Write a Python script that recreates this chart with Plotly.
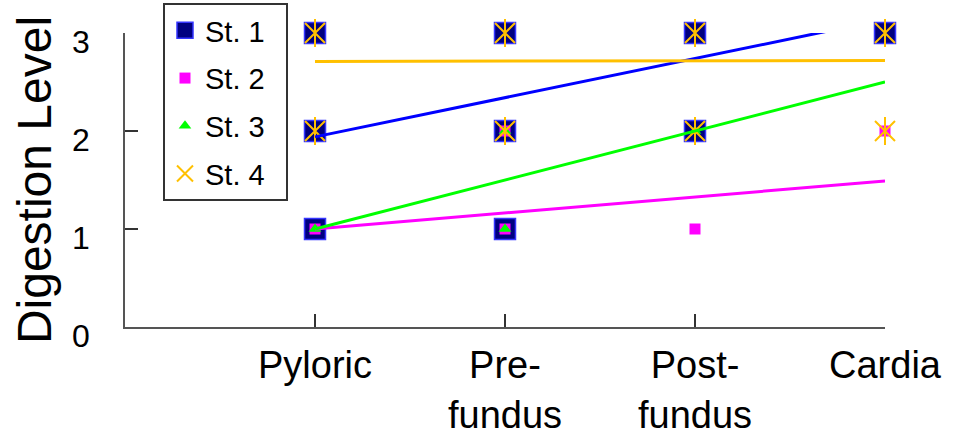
import plotly.graph_objects as go

# Stomach regions along the x axis and digestion levels on the y axis
categories = ["Pyloric", "Pre-<br>fundus", "Post-<br>fundus", "Cardia"]
cat_pos = [1, 2, 3, 4]
y_ticks = [0, 1, 2, 3]
stage_names = ["St. 1", "St. 2", "St. 3", "St. 4"]

# Observed digestion levels per stage
st1_x = [1, 1, 1, 2, 2, 2, 3, 3, 4]
st1_y = [3, 2, 1, 3, 2, 1, 3, 2, 3]
st2_x = [1, 2, 2, 3, 4]
st2_y = [1, 2, 1, 1, 2]
st3_x = [1, 2, 2, 3]
st3_y = [1, 1, 2, 2]
st4_x = [1, 1, 2, 2, 3, 3, 4, 4]
st4_y = [3, 2, 3, 2, 3, 2, 3, 2]

# Linear trend values at the first (Pyloric) and last (Cardia) region
trend_st1 = [1.94, 3.14]
trend_st2 = [1.00, 1.49]
trend_st3 = [1.00, 2.50]
trend_st4 = [2.71, 2.72]

FONT = "Liberation Sans, Arial, Helvetica, sans-serif"
NAVY = "#000080"
MAGENTA = "#FF00FF"
GREEN = "#00FF00"
GOLD = "#FFC000"
BLUE = "#0000FF"

# trailing no-break spaces widen the legend box a little
PAD = "\u00a0\u00a0"

fig = go.Figure()

# Point markers, drawn in stage order so later stages sit on top
fig.add_trace(go.Scatter(
    x=st1_x, y=st1_y, mode="markers", name=stage_names[0] + PAD,
    legendgroup="s1",
    marker=dict(symbol="square", size=21, color=NAVY,
                line=dict(color="#3535FF", width=1.5)),
    cliponaxis=False))
fig.add_trace(go.Scatter(
    x=st2_x, y=st2_y, mode="markers", name=stage_names[1] + PAD,
    legendgroup="s2",
    marker=dict(symbol="square", size=11, color=MAGENTA,
                line=dict(width=0)),
    cliponaxis=False))
fig.add_trace(go.Scatter(
    x=st3_x, y=st3_y, mode="markers", name=stage_names[2] + PAD,
    legendgroup="s3",
    marker=dict(symbol="triangle-up", size=11, color=GREEN,
                line=dict(width=0)),
    cliponaxis=False))
fig.add_trace(go.Scatter(
    x=st4_x, y=st4_y, mode="markers", name=stage_names[3] + PAD,
    legendgroup="s4",
    marker=dict(symbol="x-thin-open", size=20, color=GOLD,
                line=dict(color=GOLD, width=2)),
    cliponaxis=False))
fig.add_trace(go.Scatter(
    x=st4_x, y=st4_y, mode="markers", name=stage_names[3],
    legendgroup="s4", showlegend=False,
    marker=dict(symbol="line-ns-open", size=20, color=GOLD,
                line=dict(color=GOLD, width=2)),
    cliponaxis=False))

# Trend lines over the region range
trend_x = [cat_pos[0], cat_pos[-1]]
for vals, col, grp in [(trend_st1, BLUE, "s1"), (trend_st2, MAGENTA, "s2"),
                       (trend_st3, GREEN, "s3"), (trend_st4, GOLD, "s4")]:
    fig.add_trace(go.Scatter(
        x=trend_x, y=vals, mode="lines", legendgroup=grp, showlegend=False,
        line=dict(color=col, width=3), hoverinfo="skip"))

fig.update_layout(
    width=963, height=435,
    margin=dict(l=125, r=78, t=33, b=108, autoexpand=False),
    paper_bgcolor="white", plot_bgcolor="white",
    font=dict(family=FONT, color="black"),
    showlegend=True,
    legend=dict(
        x=0.05, y=1.102, xanchor="left", yanchor="top",
        bgcolor="white", bordercolor="#333333", borderwidth=2,
        font=dict(family=FONT, size=29, color="black"),
        traceorder="grouped", tracegroupgap=7,
    ),
    xaxis=dict(
        range=[0, 4], tickmode="array", tickvals=cat_pos, ticktext=categories,
        ticks="inside", ticklen=13, tickwidth=1.5, tickcolor="#333333",
        showline=True, linecolor="#555555", linewidth=1.5,
        showgrid=False, zeroline=False, automargin=False,
        tickfont=dict(family=FONT, size=38, color="black"),
        ticklabelstandoff=4,
    ),
    yaxis=dict(
        range=[0, 3], tickmode="array", tickvals=y_ticks,
        ticks="inside", ticklen=13, tickwidth=1.5, tickcolor="#333333",
        showline=True, linecolor="#555555", linewidth=1.5,
        showgrid=False, zeroline=False, automargin=False,
        tickfont=dict(family=FONT, size=32, color="black"),
        ticklabelstandoff=27, ticklabelshift=9,
        title=dict(text="Digestion Level",
                   font=dict(family=FONT, size=48, color="black"),
                   standoff=5),
    ),
)

fig.write_html("out.html")
